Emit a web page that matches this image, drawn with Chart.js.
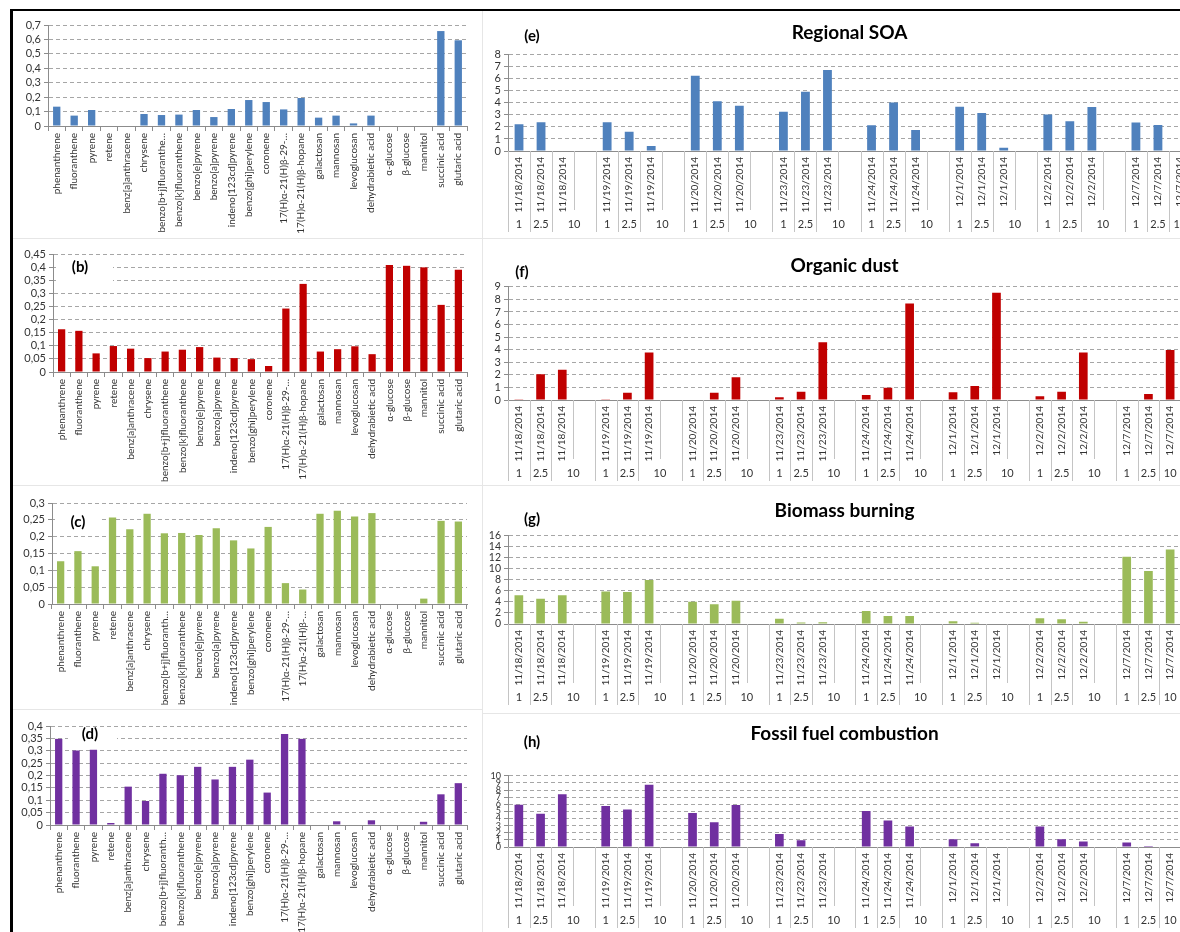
<!DOCTYPE html>
<html>
<head>
<meta charset="utf-8">
<title>Source profiles and contributions</title>
<script src="https://cdn.jsdelivr.net/npm/chart.js@4.4.1/dist/chart.umd.min.js"></script>
<style>
  body { margin: 0; background: #fff; }
  #sheet { position: relative; width: 1180px; height: 932px; overflow: hidden; background: #fff; }
  #sheet canvas { position: absolute; }
  .rule { position: absolute; background: #000; }
  .edge { position: absolute; background: #e6e6e6; }
</style>
</head>
<body>
<div id="sheet">
  <div class="rule" style="left:10px;top:9px;width:1170px;height:2px"></div>
  <div class="rule" style="left:10px;top:9px;width:3px;height:923px"></div>
  <div class="edge" style="left:482px;top:11px;width:1px;height:921px"></div>
  <div class="edge" style="left:13px;top:238px;width:469px;height:1px"></div>
  <div class="edge" style="left:13px;top:485px;width:469px;height:1px"></div>
  <div class="edge" style="left:13px;top:709px;width:469px;height:1px"></div>
  <div class="edge" style="left:483px;top:238px;width:697px;height:1px"></div>
  <div class="edge" style="left:483px;top:485px;width:697px;height:1px"></div>
  <div class="edge" style="left:483px;top:713px;width:697px;height:1px"></div>

  <canvas id="chartA" width="470" height="226" style="left:12px;top:12px"></canvas>
  <canvas id="chartB" width="470" height="244" style="left:12px;top:240px"></canvas>
  <canvas id="chartC" width="470" height="222" style="left:12px;top:486px"></canvas>
  <canvas id="chartD" width="470" height="222" style="left:12px;top:710px"></canvas>

  <canvas id="chartE" width="707" height="225" style="left:484px;top:12px"></canvas>
  <canvas id="chartF" width="697" height="245" style="left:484px;top:239px"></canvas>
  <canvas id="chartG" width="697" height="226" style="left:484px;top:486px"></canvas>
  <canvas id="chartH" width="697" height="218" style="left:484px;top:714px"></canvas>
</div>

<script>
const FONT = "Lato, 'Liberation Sans', sans-serif";

// marker compounds (profiles a-d)
const compounds = ['phenanthrene', 'fluoranthene', 'pyrene', 'retene', 'benz[a]anthracene', 'chrysene',
  'benzo[b+j]fluoranthene', 'benzo[k]fluoranthene', 'benzo[e]pyrene', 'benzo[a]pyrene',
  'indeno[123cd]pyrene', 'benzo[ghi]perylene', 'coronene', '17(H)α-21(H)β-29-norhopane',
  '17(H)α-21(H)β-hopane', 'galactosan', 'mannosan', 'levoglucosan', 'dehydrabietic acid',
  'α-glucose', 'β-glucose', 'mannitol', 'succinic acid', 'glutaric acid'];

const profileA = [0.134, 0.072, 0.111, 0, 0, 0.083, 0.076, 0.079, 0.111, 0.062, 0.118, 0.18,
  0.166, 0.115, 0.194, 0.058, 0.072, 0.018, 0.072, 0, 0, 0, 0.658, 0.594];
const profileB = [0.163, 0.157, 0.071, 0.099, 0.089, 0.053, 0.078, 0.085, 0.095, 0.055, 0.053, 0.049,
  0.023, 0.242, 0.336, 0.078, 0.087, 0.098, 0.068, 0.408, 0.405, 0.399, 0.256, 0.39];
const profileC = [0.127, 0.157, 0.112, 0.257, 0.222, 0.268, 0.21, 0.211, 0.205, 0.225, 0.189, 0.165,
  0.229, 0.062, 0.043, 0.268, 0.277, 0.26, 0.27, 0, 0, 0.016, 0.247, 0.245];
const profileD = [0.348, 0.301, 0.304, 0.008, 0.155, 0.097, 0.207, 0.201, 0.235, 0.184, 0.235, 0.264,
  0.131, 0.368, 0.348, 0, 0.015, 0, 0.019, 0, 0, 0.013, 0.124, 0.169];

// sampling days and size cuts (contributions e-h), values per day in order 1, 2.5, 10
const sampleDates = ['11/18/2014', '11/19/2014', '11/20/2014', '11/23/2014', '11/24/2014', '12/1/2014', '12/2/2014', '12/7/2014'];
const sizeCuts = ['1', '2.5', '10'];

const regionalSOA = [2.23, 2.39, 0, 2.39, 1.6, 0.42, 6.25, 4.14, 3.77, 3.27, 4.93, 6.73,
  2.14, 4.03, 1.75, 3.69, 3.15, 0.28, 3.04, 2.48, 3.66, 2.37, 2.17, 0];
const organicDust = [0.05, 2.04, 2.41, 0.05, 0.58, 3.78, 0, 0.58, 1.8, 0.21, 0.66, 4.6,
  0.4, 0.98, 7.67, 0.61, 1.11, 8.52, 0.29, 0.66, 3.78, 0, 0.48, 3.97];
const biomassBurning = [5.2, 4.6, 5.2, 5.9, 5.8, 8.0, 4.05, 3.6, 4.2, 0.97, 0.25, 0.3,
  2.35, 1.45, 1.45, 0.48, 0.24, 0, 1.03, 0.85, 0.42, 12.2, 9.6, 13.5];
const fossilFuel = [5.94, 4.66, 7.4, 5.75, 5.26, 8.76, 4.77, 3.46, 5.9, 1.84, 0.94, 0,
  5.07, 3.72, 2.89, 1.09, 0.53, 0, 2.89, 1.09, 0.79, 0.64, 0.15, 0];

Chart.defaults.font.family = FONT;
Chart.defaults.color = '#333';

// long names get cut off on the axis
function namesFor(cuts) {
  return compounds.map((n, i) => cuts[i] || n);
}

// one empty slot after each day, none after the last one
const slotLabels = [];
const sizeGroups = [];
sampleDates.forEach((d, di) => {
  const base = slotLabels.length;
  sizeCuts.forEach(() => slotLabels.push(d));
  const last = di === sampleDates.length - 1;
  if (!last) slotLabels.push('');
  sizeGroups.push({ text: sizeCuts[0], from: base, to: base });
  sizeGroups.push({ text: sizeCuts[1], from: base + 1, to: base + 1 });
  sizeGroups.push({ text: sizeCuts[2], from: base + 2, to: last ? base + 2 : base + 3 });
});

function toSlots(values) {
  const out = [];
  sampleDates.forEach((d, di) => {
    sizeCuts.forEach((s, si) => out.push(values[di * 3 + si]));
    if (di < sampleDates.length - 1) out.push(null);
  });
  return out;
}

// "(b)" style tags, with a white patch behind
const panelTag = {
  id: 'panelTag',
  beforeDatasetsDraw(chart, args, o) {
    const ctx = chart.ctx;
    ctx.save();
    if (o.clearW) {
      ctx.fillStyle = '#fff';
      ctx.fillRect(o.clearX, o.clearY, o.clearW, o.clearH);
    }
    ctx.font = 'bold 15px ' + FONT;
    ctx.fillStyle = '#000';
    ctx.textAlign = 'center';
    ctx.textBaseline = 'middle';
    ctx.fillText(o.text, o.x, o.y);
    ctx.restore();
  }
};

// second row of the category axis: 1 / 2.5 / 10 with divider lines
const sizeAxis = {
  id: 'sizeAxis',
  afterDraw(chart) {
    const xs = chart.scales.x;
    const ctx = chart.ctx;
    const step = xs.getPixelForValue(1) - xs.getPixelForValue(0);
    const y0 = xs.top;
    ctx.save();
    ctx.strokeStyle = '#c4c4c4';
    ctx.lineWidth = 1;
    ctx.font = '11px ' + FONT;
    ctx.fillStyle = '#333';
    ctx.textAlign = 'center';
    ctx.textBaseline = 'middle';
    const line = (x, len) => {
      ctx.beginPath();
      ctx.moveTo(Math.round(x) + 0.5, y0);
      ctx.lineTo(Math.round(x) + 0.5, y0 + len);
      ctx.stroke();
    };
    sizeGroups.forEach(g => {
      const left = xs.getPixelForValue(g.from) - step / 2;
      const right = xs.getPixelForValue(g.to) + step / 2;
      line(left, 81);
      for (let i = g.from + 1; i <= g.to; i++) line(xs.getPixelForValue(i) - step / 2, 59);
      ctx.fillText(g.text, (left + right) / 2, y0 + 73);
    });
    line(xs.right, 81);
    ctx.restore();
  }
};

function valueAxis(yMax, yStep, width, fontSize, fmt) {
  return {
    min: 0,
    max: yMax,
    border: { color: '#8c8c8c', dash: [4, 3] },
    grid: { color: '#a6a6a6', tickLength: 4, tickColor: '#8c8c8c', tickBorderDash: [] },
    ticks: { stepSize: yStep, autoSkip: false, padding: 3, font: { size: fontSize }, color: '#333', callback: fmt },
    afterFit: s => { s.width = width; }
  };
}

// category axis keeps its own height; no extra room for the end labels
function categoryFit(height) {
  return s => {
    s.height = height;
    s.paddingLeft = 0;
    s.paddingRight = 0;
  };
}

const decimalComma = v => String(Math.round(v * 1000) / 1000).replace('.', ',');

function compoundChart(id, values, names, color, yMax, yStep, box, tag) {
  return new Chart(document.getElementById(id), {
    type: 'bar',
    data: {
      labels: names,
      datasets: [{ data: values, backgroundColor: color, barPercentage: 0.42, categoryPercentage: 1 }]
    },
    options: {
      responsive: false,
      animation: false,
      devicePixelRatio: 1,
      layout: { padding: { top: box.top, right: 15 } },
      plugins: { legend: { display: false }, tooltip: { enabled: false }, panelTag: tag || false },
      scales: {
        x: {
          border: { color: '#8c8c8c' },
          grid: { drawOnChartArea: false, tickLength: 5, color: '#8c8c8c', offset: true },
          ticks: { autoSkip: false, minRotation: 90, maxRotation: 90, padding: 2, font: { size: 10 }, color: '#333' },
          afterFit: categoryFit(box.xHeight)
        },
        y: valueAxis(yMax, yStep, box.yWidth, 11, decimalComma)
      }
    },
    plugins: [panelTag]
  });
}

function sourceChart(id, values, title, color, yMax, yStep, box, tag) {
  return new Chart(document.getElementById(id), {
    type: 'bar',
    data: {
      labels: slotLabels,
      datasets: [{ data: toSlots(values), backgroundColor: color, barPercentage: 0.4, categoryPercentage: 1 }]
    },
    options: {
      responsive: false,
      animation: false,
      devicePixelRatio: 1,
      layout: { padding: 0 },
      plugins: {
        legend: { display: false },
        tooltip: { enabled: false },
        title: {
          display: true, text: title, fullSize: false, color: '#000',
          font: { size: 19, weight: 'bold' },
          padding: { top: box.titleTop, bottom: box.titleBottom }
        },
        panelTag: tag
      },
      scales: {
        x: {
          border: { color: '#8c8c8c' },
          grid: { display: false, drawTicks: false },
          ticks: { autoSkip: false, minRotation: 90, maxRotation: 90, padding: 6, font: { size: 10 }, color: '#333' },
          afterFit: categoryFit(box.xHeight)
        },
        y: valueAxis(yMax, yStep, 24, box.tickSize, v => String(v))
      }
    },
    plugins: [panelTag, sizeAxis]
  });
}

compoundChart('chartA', profileA,
  namesFor({ 6: 'benzo[b+j]fluoranthe…', 13: '17(H)α-21(H)β-29-…' }),
  '#4f81bd', 0.7, 0.1, { top: 13, xHeight: 112, yWidth: 36 });
compoundChart('chartB', profileB,
  namesFor({ 13: '17(H)α-21(H)β-29-…' }),
  '#c00000', 0.45, 0.05, { top: 14, xHeight: 112, yWidth: 41 },
  { text: '(b)', x: 68, y: 27, clearX: 44, clearY: 19, clearW: 57, clearH: 28 });
compoundChart('chartC', profileC,
  namesFor({ 6: 'benzo[b+j]fluoranth…', 13: '17(H)α-21(H)β-29-…', 14: '17(H)α-21(H)β-…' }),
  '#9bbb59', 0.3, 0.05, { top: 17, xHeight: 104, yWidth: 40 },
  { text: '(c)', x: 66, y: 36, clearX: 43, clearY: 25, clearW: 45, clearH: 21 });
compoundChart('chartD', profileD,
  namesFor({ 6: 'benzo[b+j]fluoranth…', 13: '17(H)α-21(H)β-29-…' }),
  '#7030a0', 0.4, 0.05, { top: 16, xHeight: 107, yWidth: 38 },
  { text: '(d)', x: 78, y: 24, clearX: 56, clearY: 19, clearW: 49, clearH: 19 });

sourceChart('chartE', regionalSOA, 'Regional SOA', '#4f81bd', 8, 1,
  { titleTop: 9, titleBottom: 11, xHeight: 86, tickSize: 11 }, { text: '(e)', x: 48, y: 24 });
sourceChart('chartF', organicDust, 'Organic dust', '#c00000', 9, 1,
  { titleTop: 15, titleBottom: 10, xHeight: 84, tickSize: 11 }, { text: '(f)', x: 38, y: 33 });
sourceChart('chartG', biomassBurning, 'Biomass burning', '#9bbb59', 16, 2,
  { titleTop: 13, titleBottom: 14, xHeight: 88, tickSize: 10.5 }, { text: '(g)', x: 48, y: 33 });
sourceChart('chartH', fossilFuel, 'Fossil fuel combustion', '#7030a0', 10, 1,
  { titleTop: 8, titleBottom: 31, xHeight: 85, tickSize: 9 }, { text: '(h)', x: 48, y: 28 });
</script>
</body>
</html>
